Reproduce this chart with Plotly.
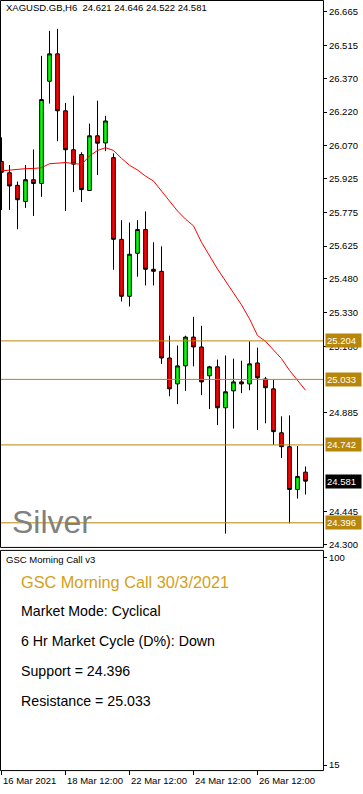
import plotly.graph_objects as go

W, H = 363, 794

# ---------------- data ----------------
bar_index = list(range(39))
opens = [26.001, 25.951, 25.895, 25.823, 25.920, 25.903, 26.357, 26.479, 26.226, 26.053,
         26.032, 25.872, 26.115, 26.083, 26.018, 25.655, 25.402, 25.593, 25.699, 25.522,
         25.513, 25.128, 25.013, 25.093, 25.221, 25.177, 25.049, 25.089, 24.907, 24.982,
         25.022, 25.013, 25.106, 25.035, 24.991, 24.796, 24.734, 24.544, 24.621]
highs = [26.108, 25.985, 25.912, 25.985, 26.054, 26.470, 26.581, 26.590, 26.261, 26.293,
         26.042, 26.169, 26.271, 26.204, 26.037, 25.740, 25.730, 25.740, 25.779, 25.642,
         25.624, 25.227, 25.183, 25.227, 25.311, 25.271, 25.093, 25.121, 25.139, 25.125,
         25.116, 25.202, 25.174, 25.044, 25.031, 24.869, 24.873, 24.737, 24.646]
lows = [25.785, 25.786, 25.700, 25.795, 25.759, 25.844, 26.258, 26.091, 25.781, 25.865,
        25.821, 25.870, 25.941, 26.047, 25.520, 25.379, 25.357, 25.489, 25.450, 25.450,
        25.102, 24.958, 24.923, 24.982, 25.091, 24.963, 24.901, 24.830, 24.348, 24.815,
        24.972, 24.985, 24.808, 24.838, 24.742, 24.684, 24.394, 24.504, 24.522]
closes = [25.953, 25.892, 25.831, 25.920, 25.903, 26.276, 26.479, 26.226, 26.053, 25.989,
          25.876, 26.115, 26.082, 26.181, 25.655, 25.402, 25.589, 25.699, 25.522, 25.513,
          25.128, 24.991, 25.093, 25.221, 25.177, 25.022, 25.089, 24.907, 24.978, 25.022,
          25.013, 25.102, 25.040, 24.996, 24.801, 24.734, 24.544, 24.602, 24.581]
ma_values = [25.959, 25.963, 25.967, 25.969, 25.970, 25.973, 25.991, 25.992, 25.996, 25.992,
             25.988, 26.025, 26.050, 26.062, 26.050, 26.015, 25.984, 25.963, 25.936, 25.914,
             25.870, 25.826, 25.781, 25.745, 25.715, 25.642, 25.582, 25.523, 25.470, 25.417,
             25.364, 25.302, 25.228, 25.202, 25.162, 25.125, 25.073, 25.029, 24.985]

level_values = [25.204, 25.033, 24.742, 24.396]
current_price = 24.581

price_ticks = [26.665, 26.515, 26.370, 26.220, 26.070, 25.925, 25.775, 25.625,
               25.480, 25.330, 25.180, 24.885, 24.445, 24.300]
date_tick_index = [0, 8, 16, 24, 32]
date_tick_labels = ["16 Mar 2021", "18 Mar 12:00", "22 Mar 12:00", "24 Mar 12:00", "26 Mar 12:00"]

panel_lines = ["Market Mode: Cyclical", "6 Hr Market Cycle (D%): Down",
               "Support = 24.396", "Resistance = 25.033"]

# ---------------- layout helpers ----------------
FONT = "Liberation Sans, Arial, sans-serif"
GOLD = "#B8860B"


def py(ypx):
    return 1 - ypx / H


def px(xpx):
    return xpx / W


PLOT_RIGHT = 323
x_range = [-1.5 / 8, (PLOT_RIGHT - 1.5) / 8]
y_range = [24.2889, 26.7137]

fig = go.Figure()
fig.add_trace(go.Candlestick(
    x=bar_index, open=opens, high=highs, low=lows, close=closes,
    increasing=dict(line=dict(color="black", width=1), fillcolor="#00FF00"),
    decreasing=dict(line=dict(color="black", width=1), fillcolor="#FF0000"),
    xaxis="x", yaxis="y", showlegend=False, hoverinfo="skip"))
fig.add_trace(go.Scatter(
    x=bar_index, y=ma_values, mode="lines", line=dict(color="#FF0000", width=1),
    xaxis="x", yaxis="y", showlegend=False, hoverinfo="skip"))
# empty trace for the indicator panel
fig.add_trace(go.Scatter(x=[None], y=[None], xaxis="x2", yaxis="y2",
                         showlegend=False, hoverinfo="skip"))

shapes = []
for v in level_values:
    shapes.append(dict(type="line", xref="paper", yref="y", x0=0, x1=px(PLOT_RIGHT),
                       y0=v, y1=v, line=dict(color=GOLD, width=1), layer="above"))
# frames
shapes.append(dict(type="rect", xref="paper", yref="paper", x0=px(0.5), x1=px(PLOT_RIGHT + 0.5),
                   y0=py(549.5), y1=py(0.5), line=dict(color="black", width=1)))
shapes.append(dict(type="rect", xref="paper", yref="paper", x0=px(0.5), x1=px(PLOT_RIGHT + 0.5),
                   y0=py(773.5), y1=py(552.5), line=dict(color="black", width=1)))

annotations = []
annotations.append(dict(xref="paper", yref="paper", x=px(4), y=py(8), xanchor="left",
                        yanchor="middle", showarrow=False,
                        text="XAGUSD.GB,H6\u00a0\u00a0%.3f %.3f %.3f %.3f" % (opens[-1], highs[-1], lows[-1], closes[-1]),
                        font=dict(family=FONT, size=9.5, color="black")))
annotations.append(dict(xref="paper", yref="paper", x=px(10), y=py(524), xanchor="left",
                        yanchor="middle", showarrow=False, text="Silver",
                        font=dict(family=FONT, size=32, color="#808080")))
for v in level_values:
    annotations.append(dict(xref="paper", yref="y", x=px(PLOT_RIGHT + 1.5), y=v, xanchor="left",
                            yanchor="middle", showarrow=False, text="%.3f" % v, bgcolor=GOLD,
                            borderpad=1, width=33, align="left",
                            font=dict(family=FONT, size=9.5, color="white")))
annotations.append(dict(xref="paper", yref="y", x=px(PLOT_RIGHT + 1.5), y=current_price,
                        xanchor="left", yanchor="middle", showarrow=False,
                        text="%.3f" % current_price, bgcolor="black", borderpad=1, width=33,
                        align="left", font=dict(family=FONT, size=9.5, color="white")))
# indicator panel texts
annotations.append(dict(xref="paper", yref="paper", x=px(4), y=py(562), xanchor="left",
                        yanchor="middle", showarrow=False, text="GSC Morning Call v3",
                        font=dict(family=FONT, size=9.5, color="black")))
annotations.append(dict(xref="paper", yref="paper", x=px(19), y=py(584), xanchor="left",
                        yanchor="middle", showarrow=False, text="GSC Morning Call 30/3/2021",
                        font=dict(family=FONT, size=16.3, color="#D4A017")))
for i, t in enumerate(panel_lines):
    annotations.append(dict(xref="paper", yref="paper", x=px(19), y=py(613.5 + 30 * i),
                            xanchor="left", yanchor="middle", showarrow=False, text=t,
                            font=dict(family=FONT, size=14.2, color="black")))
# date labels
for idx, lab in zip(date_tick_index, date_tick_labels):
    annotations.append(dict(xref="x2", yref="paper", x=idx, y=py(783), xanchor="left",
                            yanchor="middle", showarrow=False, text=lab, xshift=-1,
                            font=dict(family=FONT, size=9.5, color="black")))

fig.update_layout(
    width=W, height=H, margin=dict(l=0, r=0, t=0, b=0),
    paper_bgcolor="white", plot_bgcolor="white", boxgap=0.35,
    shapes=shapes, annotations=annotations, showlegend=False,
    xaxis=dict(domain=[0, px(PLOT_RIGHT)], range=x_range, anchor="y",
               showticklabels=False, showgrid=False, zeroline=False, ticks="",
               rangeslider=dict(visible=False), fixedrange=True),
    yaxis=dict(domain=[py(549), py(1)], range=y_range, side="right", anchor="x",
               tickvals=price_ticks, ticktext=["%.3f" % v for v in price_ticks],
               ticks="outside", ticklen=3, tickcolor="black",
               tickfont=dict(family=FONT, size=9.5, color="black"),
               showgrid=False, zeroline=False, fixedrange=True),
    xaxis2=dict(domain=[0, px(PLOT_RIGHT)], range=x_range, anchor="y2",
                tickvals=date_tick_index, showticklabels=False, ticks="outside",
                ticklen=4, tickcolor="black", showgrid=False, zeroline=False, fixedrange=True),
    yaxis2=dict(domain=[py(773), py(553)], range=[12.96, 102.86], side="right", anchor="x2",
                tickvals=[100, 15], ticktext=["100", "15"], ticks="outside", ticklen=3,
                tickcolor="black", tickfont=dict(family=FONT, size=9.5, color="black"),
                showgrid=False, zeroline=False, fixedrange=True),
)

fig.write_html("out.html", config={"displayModeBar": False},
               post_script="document.body.style.margin='0';document.body.style.padding='0';"
                           "document.documentElement.style.overflow='hidden';")
